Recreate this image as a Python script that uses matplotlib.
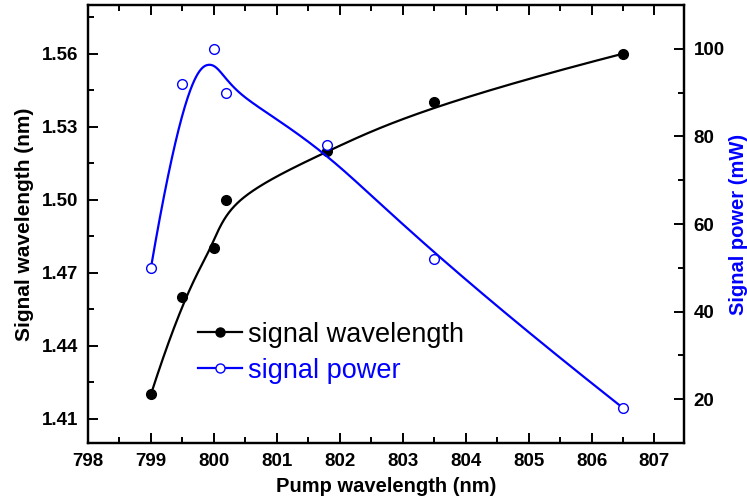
import numpy as np
import matplotlib
matplotlib.use("Agg")
import matplotlib.pyplot as plt
from matplotlib.lines import Line2D
from matplotlib.ticker import MultipleLocator, FormatStrFormatter

plt.rcParams['font.family'] = ['Liberation Sans', 'DejaVu Sans']

pump_wl = [799.0, 799.5, 800.0, 800.2, 801.8, 803.5, 806.5]
signal_wl = [1.42, 1.46, 1.48, 1.50, 1.52, 1.54, 1.56]
signal_power = [50, 92, 100, 90, 78, 52, 18]

x_ticks = [798, 799, 800, 801, 802, 803, 804, 805, 806, 807]
left_ticks = [1.41, 1.44, 1.47, 1.50, 1.53, 1.56]
right_ticks = [20, 40, 60, 80, 100]


def bspline(px, py, n=400, k=3):
    """Clamped uniform B-spline using the data points as control points (Origin-style)."""
    P = np.column_stack([px, py]).astype(float)
    m = len(P)
    inner = np.arange(1, m - k)
    t = np.concatenate([np.zeros(k + 1), inner, np.full(k + 1, m - k)]).astype(float)
    u = np.linspace(0, m - k, n)
    u[-1] -= 1e-9
    N = np.zeros((n, len(t) - 1))
    for i in range(len(t) - 1):
        N[:, i] = ((u >= t[i]) & (u < t[i + 1])).astype(float)
    for d in range(1, k + 1):
        Nn = np.zeros((n, len(t) - 1 - d))
        for i in range(len(t) - 1 - d):
            den1 = t[i + d] - t[i]
            den2 = t[i + d + 1] - t[i + 1]
            term = np.zeros(n)
            if den1 > 0:
                term += (u - t[i]) / den1 * N[:, i]
            if den2 > 0:
                term += (t[i + d + 1] - u) / den2 * N[:, i + 1]
            Nn[:, i] = term
        N = Nn
    C = N @ P
    return C[:, 0], C[:, 1]


fig = plt.figure(figsize=(7.47, 5.03), dpi=100)
ax = fig.add_axes([0.1178, 0.1193, 0.7979, 0.8707])
ax2 = ax.twinx()

bx, by = bspline(pump_wl, signal_wl)
ax.plot(bx, by, color='black', lw=1.6, zorder=3)
ax.plot(pump_wl, signal_wl, 'o', color='black', ms=7, zorder=4)

rx, ry = bspline(pump_wl, signal_power)
ax2.plot(rx, ry, color='blue', lw=1.6, zorder=3)
ax2.plot(pump_wl, signal_power, 'o', color='blue', mfc='white', mec='blue',
         mew=1.0, ms=7, zorder=4)

ax.set_xlim(798, 807.47)
ax.set_ylim(1.40, 1.58)
ax2.set_ylim(10, 110)

ax.set_xticks(x_ticks)
ax.xaxis.set_minor_locator(MultipleLocator(0.5))
ax.set_yticks(left_ticks)
ax.yaxis.set_minor_locator(MultipleLocator(0.015))
ax.yaxis.set_major_formatter(FormatStrFormatter('%.2f'))
ax2.set_yticks(right_ticks)
ax2.yaxis.set_minor_locator(MultipleLocator(10))

for a in (ax, ax2):
    for s in a.spines.values():
        s.set_linewidth(1.6)
ax.tick_params(axis='x', which='both', direction='in', top=True, width=1.4)
ax.tick_params(axis='y', which='both', direction='in', right=False, width=1.4)
ax2.tick_params(axis='y', which='both', direction='in', width=1.4)
for a in (ax, ax2):
    a.tick_params(which='major', length=7, labelsize=13.5, pad=7)
    a.tick_params(which='minor', length=4)
    for lab in a.get_xticklabels() + a.get_yticklabels():
        lab.set_fontweight('bold')

ax.set_xlabel('Pump wavelength (nm)', fontsize=14.5, fontweight='bold', labelpad=5)
ax.set_ylabel('Signal wavelength (nm)', fontsize=15, fontweight='bold', labelpad=6)
ax2.set_ylabel('Signal power (mW)', fontsize=14.5, fontweight='bold', color='blue', labelpad=3)

h1 = Line2D([], [], color='black', lw=1.6, marker='o', ms=6.5)
h2 = Line2D([], [], color='blue', lw=1.6, marker='o', ms=6.5, mfc='white', mec='blue')
leg = ax.legend([h1, h2], ['signal wavelength', 'signal power'],
                loc='upper left', bbox_to_anchor=(0.167, 0.302), frameon=False,
                fontsize=19.5, handlelength=1.6, handletextpad=0.25,
                labelspacing=0.38, borderaxespad=0)
leg.get_texts()[0].set_color('black')
leg.get_texts()[1].set_color('blue')
leg.set_zorder(10)

fig.savefig('out.png', dpi=100)
